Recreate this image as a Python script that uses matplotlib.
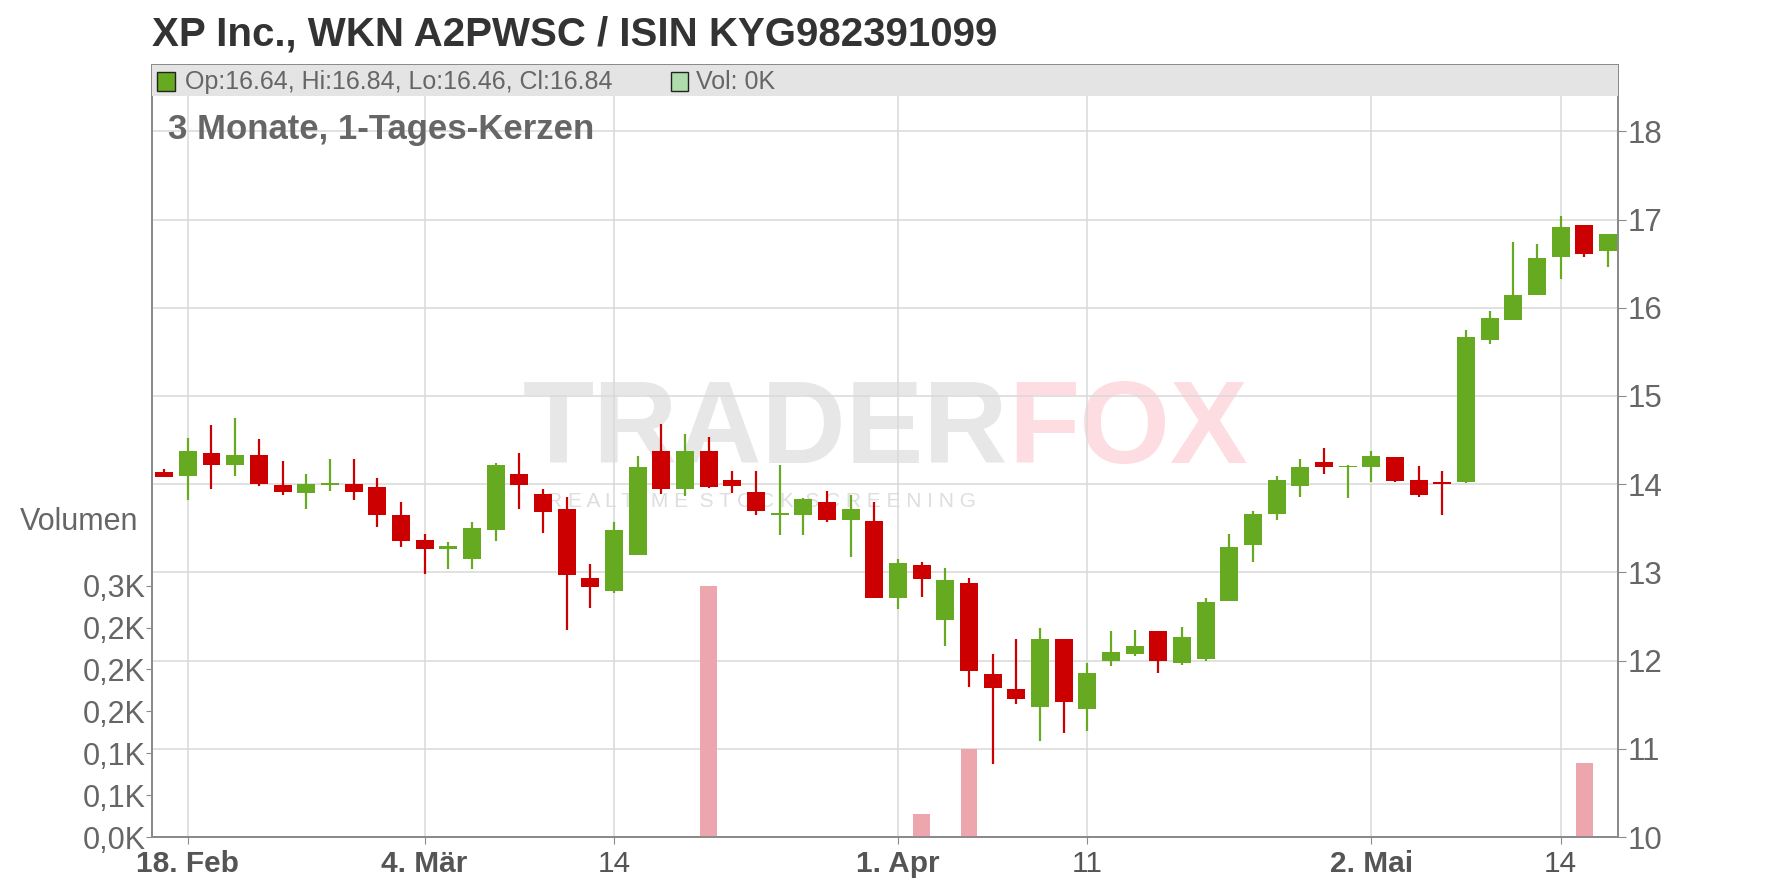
import matplotlib
matplotlib.use('Agg')
import matplotlib.pyplot as plt
from matplotlib.patches import Rectangle
import numpy as np
import pandas as pd

plt.rcParams['font.family'] = ['Liberation Sans', 'DejaVu Sans']

# trading days (German exchange: closed Good Friday, Easter Monday, 1 May)
holidays = ['2025-04-18', '2025-04-21', '2025-05-01']
days = [d for d in pd.bdate_range('2025-02-17', '2025-05-16')
        if d.strftime('%Y-%m-%d') not in holidays]

opens = [14.14, 14.09, 14.35, 14.22, 14.33, 13.99, 13.90, 13.99, 14.00, 13.97,
         13.65, 13.37, 13.26, 13.15, 13.48, 14.12, 13.89, 13.72, 12.94, 12.79,
         13.20, 14.38, 13.95, 14.38, 14.05, 13.91, 13.65, 13.65, 13.80, 13.59,
         13.58, 12.71, 13.08, 12.46, 12.88, 11.85, 11.68, 11.47, 12.25, 11.45,
         11.99, 12.08, 12.33, 11.97, 12.02, 12.68, 13.31, 13.66, 13.98, 14.25,
         14.19, 14.20, 14.31, 14.05, 14.02, 14.02, 15.63, 15.86, 16.15, 16.57,
         16.94, 16.64]
highs = [14.17, 14.52, 14.67, 14.75, 14.51, 14.26, 14.12, 14.29, 14.29, 14.07,
         13.80, 13.43, 13.34, 13.57, 14.24, 14.35, 13.95, 13.86, 13.09, 13.57,
         14.32, 14.68, 14.57, 14.53, 14.15, 14.15, 14.22, 13.84, 13.92, 13.88,
         13.80, 13.15, 13.12, 13.05, 12.94, 12.08, 12.25, 12.37, 12.25, 11.97,
         12.34, 12.35, 12.33, 12.38, 12.71, 13.44, 13.70, 14.09, 14.29, 14.41,
         14.22, 14.38, 14.31, 14.21, 14.15, 15.75, 15.96, 16.74, 16.72, 17.04,
         16.94, 16.84]
lows = [14.08, 13.82, 13.94, 14.09, 13.98, 13.88, 13.72, 13.92, 13.82, 13.51,
        13.29, 12.98, 13.04, 13.04, 13.36, 13.72, 13.45, 12.35, 12.60, 12.77,
        13.20, 13.89, 13.87, 13.96, 13.90, 13.65, 13.42, 13.42, 13.57, 13.17,
        12.71, 12.59, 12.72, 12.16, 11.70, 10.83, 11.51, 11.09, 11.18, 11.20,
        11.94, 12.05, 11.86, 11.95, 11.99, 12.68, 13.12, 13.59, 13.85, 14.11,
        13.84, 14.02, 14.02, 13.86, 13.65, 14.01, 15.59, 15.86, 16.15, 16.33,
        16.57, 16.46]
closes = [14.08, 14.38, 14.22, 14.33, 14.00, 13.91, 14.00, 14.00, 13.91, 13.65,
          13.36, 13.26, 13.30, 13.50, 14.22, 13.99, 13.69, 12.97, 12.83, 13.48,
          14.20, 13.94, 14.38, 13.97, 13.98, 13.70, 13.66, 13.83, 13.59, 13.72,
          12.71, 13.11, 12.93, 12.91, 11.88, 11.69, 11.56, 12.24, 11.53, 11.86,
          12.10, 12.17, 11.99, 12.27, 12.67, 13.29, 13.66, 14.05, 14.20, 14.19,
          14.21, 14.32, 14.04, 13.88, 14.00, 15.67, 15.88, 16.15, 16.56, 16.92,
          16.61, 16.84]
volumes = [0] * 62
volumes[23] = 300
volumes[32] = 27
volumes[34] = 105
volumes[60] = 88

tick_dates = ['2025-02-18', '2025-03-04', '2025-03-14', '2025-04-01',
              '2025-04-11', '2025-05-02', '2025-05-14']
tick_labels = ['18. Feb', '4. Mär', '14', '1. Apr', '11', '2. Mai', '14']
tick_bold = [True, True, False, True, False, True, False]

price_ticks = [10, 11, 12, 13, 14, 15, 16, 17, 18]
vol_ticks = [0, 50, 100, 150, 200, 250, 300]
vol_labels = ['0,0K', '0,1K', '0,1K', '0,2K', '0,2K', '0,2K', '0,3K']

UP = '#66aa22'
DOWN = '#cc0000'
GRID = '#d9d9d9'
FRAME = '#8a8a8a'

o = np.array(opens)
c = np.array(closes)
x = np.arange(len(days))
cols = [UP if cc >= oo else DOWN for oo, cc in zip(o, c)]

fig = plt.figure(figsize=(17.76, 8.88), dpi=100)
ax = fig.add_axes([0.0855, 0.0574, 0.8253, 0.8699])
axv = ax.twinx()

# watermark
ax.text(0.584, 0.484, 'TRADER', transform=ax.transAxes, ha='right', va='baseline',
        fontsize=84, fontweight='bold', color='#e7e7e7', zorder=0)
ax.text(0.584, 0.484, 'FOX', transform=ax.transAxes, ha='left', va='baseline',
        fontsize=84, fontweight='bold', color='#fddde1', zorder=0)
ax.text(0.416, 0.434, 'R E A L T I M E  S T O C K  S C R E E N I N G',
        transform=ax.transAxes, ha='center', va='center', fontsize=15,
        color='#dedede', zorder=0)

# candles
ax.vlines(x, lows, highs, colors=cols, lw=1.6, zorder=2)
body_h = np.maximum(np.abs(c - o), 0.02)
ax.bar(x, body_h, bottom=np.minimum(o, c), width=0.76, color=cols, zorder=3)

ax.set_xlim(-0.52, 61.4)
ax.set_ylim(10, 18.757)
ax.yaxis.tick_right()
ax.set_yticks(price_ticks)
ax.grid(True, color=GRID, lw=1.1, zorder=0)
ax.set_axisbelow(True)

pos = [days.index(pd.Timestamp(d)) for d in tick_dates]
ax.set_xticks(pos)
ax.set_xticklabels(tick_labels)
for lab, b in zip(ax.get_xticklabels(), tick_bold):
    lab.set_fontweight('bold' if b else 'normal')
ax.tick_params(axis='x', labelsize=21.5, colors=FRAME, labelcolor='#555555',
               length=5, pad=4)
ax.tick_params(axis='y', labelsize=22.5, colors=FRAME, labelcolor='#666666',
               length=6, pad=1.5, right=True, left=False, labelright=True, labelleft=False)

# volume
axv.bar(x, volumes, width=0.7, color='#eea6ae', zorder=2)
axv.set_ylim(0, 921.7)
axv.yaxis.tick_left()
axv.set_yticks(vol_ticks)
axv.set_yticklabels(vol_labels)
axv.tick_params(axis='y', labelsize=22, colors=FRAME, labelcolor='#666666',
                length=4, pad=0.5, left=True, right=False, labelleft=True, labelright=False)

for a in (ax, axv):
    for s in a.spines.values():
        s.set_color(FRAME)
        s.set_linewidth(1.3)

# legend band
axv.add_patch(Rectangle((0, 1 - 0.041), 1, 0.041, transform=axv.transAxes,
                        facecolor='#e4e4e4', edgecolor='none', zorder=10, clip_on=False))
fig.patches.append(Rectangle((0.0884, 0.8975), 0.0101, 0.0214, transform=fig.transFigure,
                             facecolor=UP, edgecolor='#222222', lw=1, figure=fig))
fig.text(0.1042, 0.9082, 'Op:%.2f, Hi:%.2f, Lo:%.2f, Cl:%.2f' % (opens[-1], highs[-1], lows[-1], closes[-1]),
         fontsize=18, color='#666666', va='center')
fig.patches.append(Rectangle((0.3778, 0.8975), 0.0096, 0.0214, transform=fig.transFigure,
                             facecolor='#aedcaa', edgecolor='#222222', lw=1, figure=fig))
fig.text(0.3919, 0.9082, 'Vol: %dK' % volumes[-1], fontsize=18, color='#666666', va='center')

fig.text(0.0856, 0.9617, 'XP Inc., WKN A2PWSC / ISIN KYG982391099', fontsize=29,
         fontweight='bold', color='#333333', va='center')
fig.text(0.0946, 0.8547, '3 Monate, 1-Tages-Kerzen', fontsize=25, fontweight='bold',
         color='#666666', va='center')
fig.text(0.0777, 0.4122, 'Volumen', fontsize=22, color='#666666', ha='right', va='center')

fig.savefig('out.png', dpi=100, facecolor='white')
